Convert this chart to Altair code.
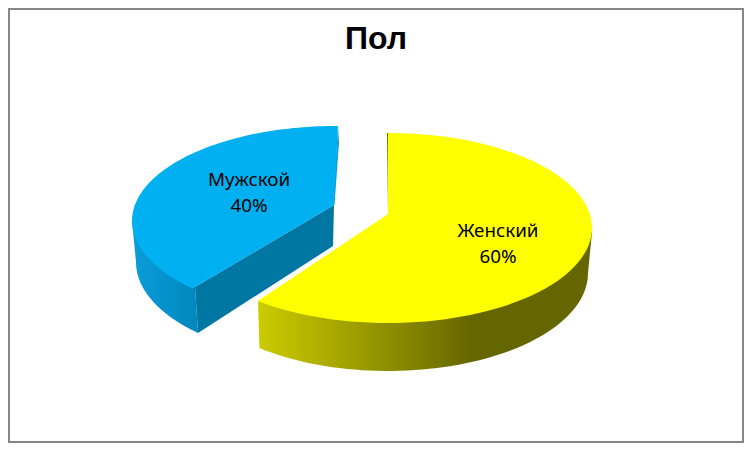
import math
import altair as alt
import pandas as pd

categories = ["Женский", "Мужской"]
shares = [60, 40]

# Pie geometry in picture units (scales below map these onto the plot)
YELLOW = dict(c=(388, 228), r=(204, 95), apex=(388, 214), k=0.486, sh=0.0)
BLUE = dict(c=(336, 221), r=(204, 95), apex=(334, 205), k=0.442, sh=0.022)
X_DOMAIN = [8, 744]
Y_DOMAIN = [443, 8]


def rim(g, pct0, pct1, n=90):
    """Points on the tilted rim for the share range pct0..pct1 (clockwise from top)."""
    pts = []
    ax, ay = g["apex"]
    cx, cy = g["c"]
    rx, ry = g["r"]
    for i in range(n + 1):
        th = 2 * math.pi * (pct0 + (pct1 - pct0) * i / n) / 100
        dx = math.sin(th) + g["sh"] * math.cos(th)
        dy = -g["k"] * math.cos(th)
        ox, oy = (ax - cx) / rx, (ay - cy) / ry
        ux, uy = dx / rx, dy / ry
        a = ux * ux + uy * uy
        b = 2 * (ox * ux + oy * uy)
        c = ox * ox + oy * oy - 1
        t = (-b + math.sqrt(b * b - 4 * a * c)) / (2 * a)
        pts.append((ax + t * dx, ay + t * dy))
    return pts


def arc(cx, cy, rx, ry, a0, a1, n=60):
    out = []
    for i in range(n + 1):
        a = math.radians(a0 + (a1 - a0) * i / n)
        out.append((cx + rx * math.cos(a), cy + ry * math.sin(a)))
    return out


X = alt.X("x:Q", scale=alt.Scale(domain=X_DOMAIN, nice=False, zero=False), axis=None)
Y = alt.Y("y:Q", scale=alt.Scale(domain=Y_DOMAIN, nice=False, zero=False), axis=None)


def poly(points, fill):
    df = pd.DataFrame(
        [{"x": p[0], "y": p[1], "i": i} for i, p in enumerate(points)]
    )
    return (
        alt.Chart(df)
        .mark_line(fill=fill, strokeWidth=0, interpolate="linear")
        .encode(x=X, y=Y, order="i:Q")
    )


def grad(stops):
    return alt.Gradient(
        gradient="linear",
        x1=0, x2=1, y1=0, y2=0,
        stops=[alt.GradientStop(offset=o, color=c) for o, c in stops],
    )


y_pct, b_pct = shares[0], shares[0] + shares[1]
y_rim = rim(YELLOW, 0, y_pct)
b_rim = rim(BLUE, y_pct, b_pct)

# Side walls
y_wall_pts = [(592, 232), (258, 301)]
y_wall_pts += arc(388, 273, 200, 98, 130, 0)
y_wall = poly(y_wall_pts, grad([(0, "#CCCC00"), (0.64, "#666600"), (1, "#666600")]))

b_wall_pts = [(195, 287), (132, 221)] + arc(336, 262, 200, 98, 180, 136) + [(198, 333)]
b_wall = poly(b_wall_pts, grad([(0, "#0A9DD9"), (1, "#0087BD")]))

b_inner = poly([(195, 287), (198, 333), (333, 246), (334, 205)], "#0076A3")
b_strip = poly([(338, 126), (339, 142), (334.5, 205), (333, 205)], "#0F9CD6")
y_inner = poly([(387, 133), (388.6, 133), (389, 214), (388, 214)], "#6E6E00")

# Top faces
y_top = poly([YELLOW["apex"]] + y_rim, "#FFFF00")
b_top = poly([BLUE["apex"]] + b_rim, "#00B0F0")

labels = pd.DataFrame(
    {
        "x": [498, 249],
        "y": [231, 180],
        "t": [f"{c}\n{v}%" for c, v in zip(categories, shares)],
    }
)
text = (
    alt.Chart(labels)
    .mark_text(
        font="Noto Sans", fontSize=18.8, color="#000000", lineBreak="\n", lineHeight=26,
        align="center", baseline="middle",
    )
    .encode(x=X, y=Y, text="t:N")
)

frame = pd.DataFrame({"x": [9], "x2": [743], "y": [9], "y2": [442]})
border = (
    alt.Chart(frame)
    .mark_rect(fill="#FFFFFF", stroke="#868686", strokeWidth=2)
    .encode(x=X, x2="x2:Q", y=Y, y2="y2:Q")
)

chart = (
    alt.layer(border, b_wall, b_inner, b_strip, b_top, y_wall, y_inner, y_top, text)
    .properties(
        width=736,
        height=435,
        padding=0,
        autosize=alt.AutoSizeParams(type="none"),
        title=alt.TitleParams(
            "Пол", font="Liberation Sans", fontSize=32, fontWeight="bold",
            color="#000000", anchor="middle", offset=-43, dy=30, baseline="alphabetic",
        ),
    )
    .configure_view(stroke=None)
)
chart.save("out.html", embed_options={"renderer": "svg", "actions": False})
